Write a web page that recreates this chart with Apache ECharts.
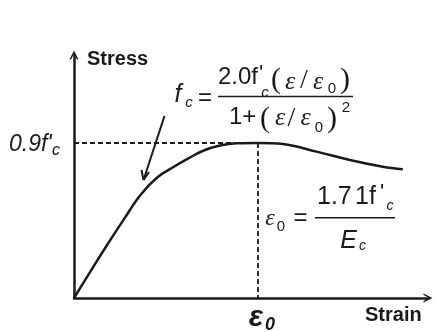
<!DOCTYPE html>
<html>
<head>
<meta charset="utf-8">
<script src="https://cdn.jsdelivr.net/npm/echarts@6/dist/echarts.min.js"></script>
<style>
  html, body { margin: 0; padding: 0; background: #fff; }
  #chart { width: 436px; height: 332px; }
</style>
</head>
<body>
<div id="chart"></div>
<script>
// strain in units of eps0, stress in units of f'c
var strain = [0, 0.088, 0.178, 0.27, 0.36, 0.452, 0.543, 0.612, 0.702, 0.793, 0.884, 1.0, 1.135, 1.318, 1.499, 1.678, 1.787];
var stress = [0, 0.152, 0.305, 0.455, 0.597, 0.7, 0.762, 0.805, 0.855, 0.885, 0.898, 0.9, 0.894, 0.85, 0.801, 0.762, 0.747];
var peakStrain = 1.0;
var peakStress = 0.9;

var ink = '#1a1a1a';
var sans = '"Liberation Sans", Arial, sans-serif';
var serif = '"Liberation Serif", "DejaVu Serif", serif';

// annotation text piece, centred on (x, y) unless align given
function t(x, y, text, size, opt) {
  opt = opt || {};
  return {
    type: 'text', x: x, y: y, silent: true,
    style: {
      text: text,
      fill: opt.color || ink,
      font: (opt.style || '') + ' ' + (opt.weight || 'normal') + ' ' + size + 'px ' + (opt.family || sans),
      verticalAlign: 'middle',
      align: opt.align || 'center'
    }
  };
}
function ln(x1, y1, x2, y2, w) {
  return {
    type: 'line', silent: true,
    shape: { x1: x1, y1: y1, x2: x2, y2: y2 },
    style: { stroke: ink, lineWidth: w || 1.5 }
  };
}

var chevron = 'path://M0,10 L5,0 L10,10 L8.2,10 L5,3.6 L1.8,10 Z';
var it = { style: 'italic' };
var itSerif = { style: 'italic', family: serif };
var paren = { family: serif };

var chart = echarts.init(document.getElementById('chart'));
chart.setOption({
  animation: false,
  grid: { left: 74, right: 8, top: 55, bottom: 34 },
  xAxis: {
    type: 'value', min: 0, max: 1.924,
    axisLine: { lineStyle: { color: ink, width: 2.5 }, symbol: ['none', chevron], symbolSize: [9, 11] },
    axisTick: { show: false }, axisLabel: { show: false }, splitLine: { show: false }
  },
  yAxis: {
    type: 'value', min: 0, max: 1.411,
    axisLine: { lineStyle: { color: ink, width: 2.5 }, symbol: ['none', chevron], symbolSize: [9, 11] },
    axisTick: { show: false }, axisLabel: { show: false }, splitLine: { show: false }
  },
  series: [{
    type: 'line',
    data: strain.map(function (s, i) { return [s, stress[i]]; }),
    smooth: 0.4,
    showSymbol: false,
    lineStyle: { color: ink, width: 2.5 },
    markLine: {
      silent: true, symbol: 'none', label: { show: false },
      lineStyle: { color: ink, width: 1.8, type: [5, 3] },
      data: [
        [{ coord: [0, peakStress] }, { coord: [peakStrain, peakStress] }],
        [{ coord: [peakStrain, peakStress] }, { coord: [peakStrain, 0] }]
      ]
    }
  }],
  graphic: [
    t(87, 59, 'Stress', 20, { weight: 'bold', align: 'left' }),
    t(365, 315, 'Strain', 20, { weight: 'bold', align: 'left' }),
    // 0.9f'c
    t(9, 145, "0.9f'", 23, { style: 'italic', align: 'left' }),
    t(56, 151, 'c', 16, it),
    // eps0 under the axis
    t(256, 318, 'ε', 30, { style: 'italic', weight: 'bold' }),
    t(270, 325, '0', 18, { style: 'italic', weight: 'bold' }),
    // fc = 2.0f'c(e/e0) / (1+(e/e0)^2)
    t(178, 95, 'f', 25, it),
    t(189, 103, 'c', 15, it),
    t(205, 98, '=', 24),
    t(218, 77, '2.0f', 24, { align: 'left' }),
    t(261, 74, "'", 22),
    t(265, 93, 'c', 15, it),
    t(276, 80, '(', 30, paren),
    t(290, 82, 'ε', 26, itSerif),
    t(304, 81, '/', 28, paren),
    t(318, 82, 'ε', 26, itSerif),
    t(332, 89, '0', 15),
    t(345, 80, ')', 30, paren),
    ln(218, 96.5, 353, 96.5, 1.6),
    t(229, 117, '1+', 24, { align: 'left' }),
    t(265, 119, '(', 30, paren),
    t(280, 118.5, 'ε', 26, itSerif),
    t(291.5, 119, '/', 28, paren),
    t(305.5, 118.5, 'ε', 26, itSerif),
    t(319, 128, '0', 15),
    t(332, 119, ')', 30, paren),
    t(346, 108, '2', 15),
    // eps0 = 1.71f'c / Ec
    t(270, 219, 'ε', 24, itSerif),
    t(281, 226.5, '0', 15),
    t(300.5, 218, '=', 24),
    t(317, 197.5, '1.7', 25, { align: 'left' }),
    t(355, 197.5, '1f', 25, { align: 'left' }),
    t(382, 193, "'", 22),
    t(390, 206.5, 'c', 14, it),
    ln(315, 217.7, 395, 217.7, 1.6),
    t(348.5, 241, 'E', 25, it),
    t(362.5, 246, 'c', 14, it),
    // pointer arrow
    ln(164.5, 116, 143.5, 180, 2),
    ln(143.5, 180, 141.5, 170, 2),
    ln(143.5, 180, 149, 172, 2)
  ]
});
</script>
</body>
</html>
